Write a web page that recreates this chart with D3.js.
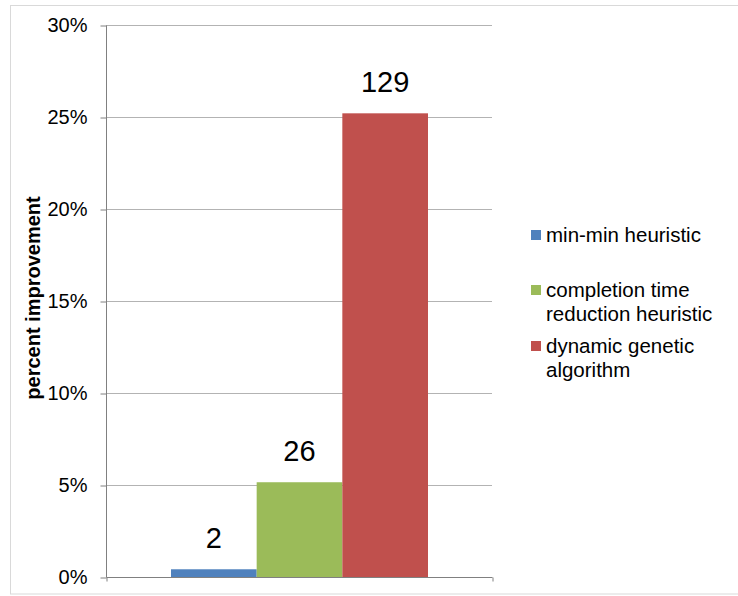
<!DOCTYPE html>
<html>
<head>
<meta charset="utf-8">
<script src="https://cdn.jsdelivr.net/npm/d3@7"></script>
<style>
  html, body { margin: 0; padding: 0; background: #fff; }
  svg { display: block; font-family: "Liberation Sans", Arial, sans-serif; }
</style>
</head>
<body>
<svg id="chart" width="738" height="596"></svg>
<script>
// Series and their values (percent improvement) plus the count shown above each bar
const seriesNames = ["min-min heuristic", "completion time reduction heuristic", "dynamic genetic algorithm"];
const legendLines = [["min-min heuristic"], ["completion time", "reduction heuristic"], ["dynamic genetic", "algorithm"]];
const seriesValues = [0.42, 5.15, 25.2];
const barLabels = ["2", "26", "129"];
const seriesColors = ["#4f81bd", "#9bbb59", "#c0504d"];
const yTicks = [0, 5, 10, 15, 20, 25, 30];

const svg = d3.select("#chart");

// outer chart frame
svg.append("rect")
  .attr("x", 10.5).attr("y", 5.5)
  .attr("width", 740).attr("height", 588.5)
  .attr("fill", "none").attr("stroke", "#d9d9d9").attr("stroke-width", 1);

const plot = { left: 106, right: 492, top: 25, bottom: 577 };

const y = d3.scaleLinear().domain([0, 30]).range([plot.bottom, plot.top]);
const x = d3.scaleBand().domain(seriesNames)
  .range([171, 428]).paddingInner(0).paddingOuter(0);

// horizontal gridlines
svg.append("g")
  .selectAll("line")
  .data(yTicks.filter(d => d > 0))
  .join("line")
  .attr("x1", plot.left).attr("x2", plot.right)
  .attr("y1", d => Math.round(y(d)) + 0.5).attr("y2", d => Math.round(y(d)) + 0.5)
  .attr("stroke", "#b3b3b3").attr("stroke-width", 1);

// bars
svg.append("g")
  .selectAll("rect")
  .data(seriesValues)
  .join("rect")
  .attr("x", (d, i) => x(seriesNames[i]))
  .attr("width", x.bandwidth())
  .attr("y", d => y(d))
  .attr("height", d => y(0) - y(d))
  .attr("fill", (d, i) => seriesColors[i]);

// count labels above bars
svg.append("g")
  .selectAll("text")
  .data(seriesValues)
  .join("text")
  .attr("x", (d, i) => x(seriesNames[i]) + x.bandwidth() / 2)
  .attr("y", d => y(d) - 21)
  .attr("text-anchor", "middle")
  .attr("font-size", 29)
  .attr("fill", "#000")
  .text((d, i) => barLabels[i]);

// y axis
const yAxis = d3.axisLeft(y)
  .tickValues(yTicks)
  .tickSize(6)
  .tickPadding(13)
  .tickFormat(d => d + "%");
const gy = svg.append("g")
  .attr("transform", `translate(${plot.left + 0.5},0.5)`)
  .call(yAxis);
gy.select(".domain").attr("stroke", "#808080").attr("d", `M0,${plot.top}V${plot.bottom}`);
gy.selectAll(".tick line").attr("stroke", "#808080");
gy.selectAll(".tick text")
  .attr("font-size", 20)
  .attr("font-family", "Liberation Sans, Arial, sans-serif")
  .attr("fill", "#000");

// x axis baseline with end ticks
const xEdge = d3.scaleLinear().domain([0, 1]).range([plot.left, plot.right]);
const gx = svg.append("g")
  .attr("transform", `translate(0.5,${plot.bottom + 0.5})`)
  .call(d3.axisBottom(xEdge).tickValues([0, 1]).tickSize(4).tickFormat(""));
gx.select(".domain").attr("stroke", "#808080").attr("d", `M${plot.left},0H${plot.right}`);
gx.selectAll(".tick line").attr("stroke", "#808080");

// y axis title
svg.append("text")
  .attr("transform", `translate(40,298) rotate(-90)`)
  .attr("text-anchor", "middle")
  .attr("font-size", 20)
  .attr("font-weight", "bold")
  .attr("fill", "#000")
  .text("percent improvement");

// legend
const legendTops = [242, 297, 353];
const legend = svg.append("g");
legendLines.forEach((lines, i) => {
  legend.append("rect")
    .attr("x", 531).attr("y", legendTops[i] - 12)
    .attr("width", 10).attr("height", 10)
    .attr("fill", seriesColors[i]);
  const t = legend.append("text")
    .attr("x", 546).attr("y", legendTops[i])
    .attr("font-size", 20.5)
    .attr("fill", "#000");
  lines.forEach((ln, j) => {
    t.append("tspan").attr("x", 546).attr("dy", j === 0 ? 0 : 23.5).text(ln);
  });
});
</script>
</body>
</html>
